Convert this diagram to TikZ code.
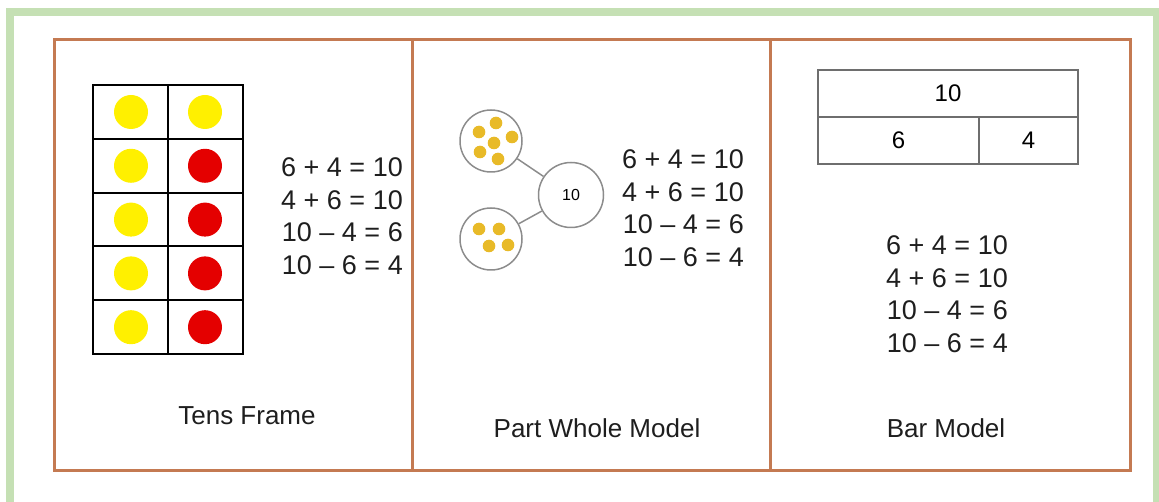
\documentclass[tikz,border=0pt]{standalone}
\usepackage{fontspec}
\setmainfont{Liberation Sans}
\definecolor{framegreen}{RGB}{197,224,180}
\definecolor{panelbrown}{RGB}{196,122,82}
\definecolor{dotyellow}{RGB}{255,240,0}
\definecolor{dotred}{RGB}{228,0,0}
\definecolor{counter}{RGB}{232,186,40}
\definecolor{ringgray}{RGB}{140,140,140}
\definecolor{bargray}{RGB}{110,110,110}
\definecolor{inktext}{RGB}{30,30,30}
\tikzset{
  eqn/.style={align=right, font=\fontsize{27}{32.5}\selectfont, inner sep=0pt, text=inktext},
  caption/.style={font=\fontsize{26}{30}\selectfont, inner sep=0pt, text=inktext},
  part/.style={circle, draw=ringgray, line width=1.5, minimum size=62, inner sep=0pt},
  whole/.style={circle, draw=ringgray, line width=1.5, minimum size=65, inner sep=0pt,
    font=\fontsize{16}{18}\selectfont},
  barcell/.style={rectangle, draw=bargray, line width=1.5, minimum height=47, inner sep=0pt,
    font=\fontsize{24}{28}\selectfont},
}

\begin{document}
\begin{tikzpicture}[x=1pt, y=-1pt]
    \useasboundingbox (0,0) rectangle (1159,502);
    \clip (0,0) rectangle (1159,502);
    % outer frames
    \draw[framegreen, line width=8] (10,12) rectangle (1157,530);
    \draw[panelbrown, line width=3] (54,40) rectangle (1130,470);
    \draw[panelbrown, line width=3] (412,40) -- (412,470);
    \draw[panelbrown, line width=3] (770,40) -- (770,470);
    % tens frame
    \foreach \r in {0,...,4} {
        \fill[dotyellow] (131,{112+53.8*\r}) circle[radius=17];
        \ifnum\r=0
            \fill[dotyellow] (205,112) circle[radius=17];
        \else
            \fill[dotred] (205,{112+53.8*\r}) circle[radius=17];
        \fi
    }
    \draw[line width=2] (93,85) rectangle (243,354);
    \draw[line width=2] (168,85) -- (168,354);
    \foreach \r in {1,...,4}
        \draw[line width=2] (93,{85+53.8*\r}) -- (243,{85+53.8*\r});
    \node[eqn] (tens_eqs) at (342,216) {6 + 4 = 10\\4 + 6 = 10\\10 -- 4 = 6\\10 -- 6 = 4};
    % part whole model
    \node[part] (part_six) at (491,141) {};
    \node[part] (part_four) at (491,239) {};
    \node[whole] (whole_ten) at (571,195) {10};
    \draw[ringgray, line width=1.5] (part_six) -- (whole_ten);
    \draw[ringgray, line width=1.5] (part_four) -- (whole_ten);
    \foreach \x/\y in {496/123, 479/132, 494/143, 512/137, 480/152, 498/159}
        \fill[counter] (\x,\y) circle[radius=6.3];
    \foreach \x/\y in {479/229, 499/229, 489/246, 508/245}
        \fill[counter] (\x,\y) circle[radius=6.3];
    \node[eqn] (part_eqs) at (683,208) {6 + 4 = 10\\4 + 6 = 10\\10 -- 4 = 6\\10 -- 6 = 4};
    % bar model
    \node[barcell, minimum width=260] (bar_ten) at (948,93.5) {10};
    \node[barcell, minimum width=161] (bar_six) at (898.5,140.5) {6};
    \node[barcell, minimum width=99] (bar_four) at (1028.5,140.5) {4};
    \node[eqn] (bar_eqs) at (947,294) {6 + 4 = 10\\4 + 6 = 10\\10 -- 4 = 6\\10 -- 6 = 4};
    % captions
    \node[caption] (cap_tens) at (247,416) {Tens Frame};
    \node[caption] (cap_part) at (597,428) {Part Whole Model};
    \node[caption] (cap_bar) at (946,428) {Bar Model};
\end{tikzpicture}
\end{document}
